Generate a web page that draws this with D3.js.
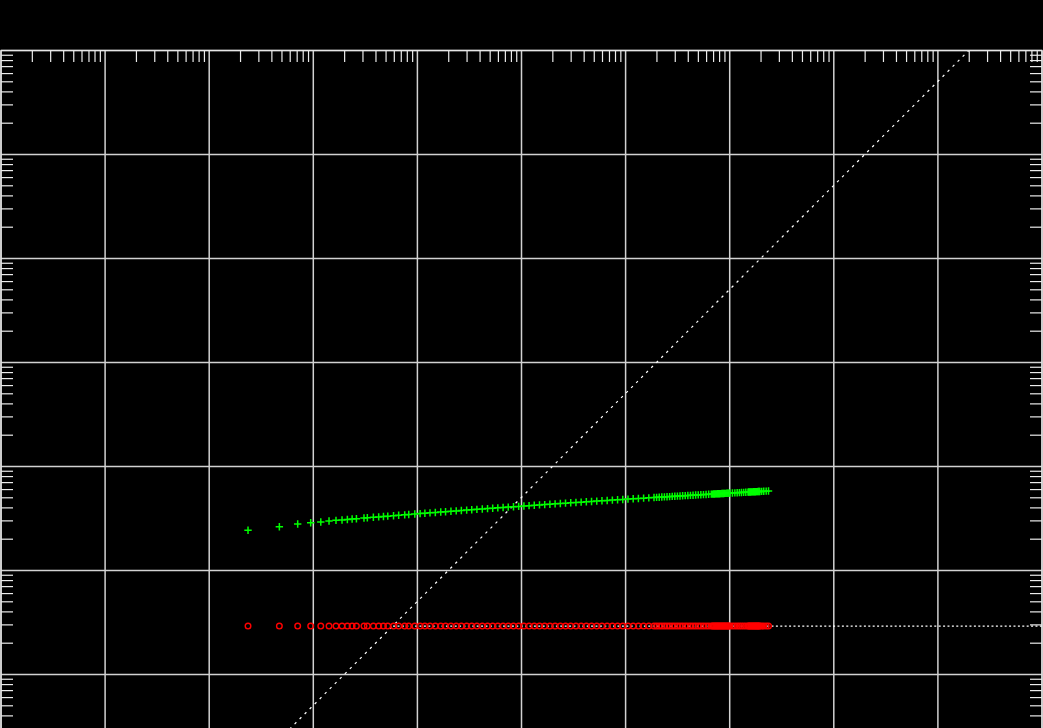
<!DOCTYPE html>
<html>
<head>
<meta charset="utf-8">
<script src="https://cdn.jsdelivr.net/npm/d3@7"></script>
<style>
  html, body { margin: 0; padding: 0; background: #000; overflow: hidden; }
  svg { display: block; }
</style>
</head>
<body>
<svg id="chart" width="1043" height="728"></svg>
<script>
// ---------------- data ----------------
const tau0 = 2.36; // x-axis units per averaging step
const avgFactor = [1,2,3,4,5,6,7,8,9,10,
  11,13,14,16,18,20,22,25,28,32,35,40,45,50,56,63,71,79,89,
  100,112,126,141,158,178,200,224,251,282,316,355,398,447,501,562,631,708,794,891,
  1000,1122,1259,1413,1585,1778,1995,2239,2512,2818,3162,3548,3981,4467,5012,5623,6310,7079,7943,
  8414,8913,9441,
  10000,10593,11220,11885,12589,13335,14125,14962,15849,16788,17783,18836,19953,21135,22387,23714,25119,26607,28184,
  29000,29700,30400,31100,31800,32500,33200,34000,34800,35600,36400,37200,38000,38900,39800,40700,41600,42500,
  45000,47500,50000,52500,55000,57700,60500,63500,
  64500,66000,67500,69000,70500,72000,73500,75000,76500,78000,79500,81000,82500,
  86000,90000,95000,100000];

const greenDev = [2.434,2.636,2.798,2.880,2.925,2.991,3.037,3.057,3.092,3.126,
  3.150,3.193,3.213,3.247,3.278,3.306,3.331,3.365,3.395,3.430,3.454,3.490,3.523,3.551,3.582,3.614,3.647,3.677,3.709,
  3.742,3.774,3.807,3.838,3.871,3.904,3.937,3.970,4.003,4.036,4.069,4.103,4.136,4.170,4.203,4.237,4.271,4.304,4.338,4.372,
  4.407,4.441,4.475,4.509,4.544,4.578,4.613,4.648,4.682,4.717,4.752,4.787,4.822,4.857,4.892,4.927,4.962,4.997,5.032,
  5.050,5.068,5.085,
  5.103,5.120,5.138,5.156,5.174,5.191,5.209,5.227,5.245,5.262,5.280,5.298,5.315,5.333,5.351,5.368,5.386,5.404,5.422,
  5.430,5.438,5.445,5.452,5.458,5.465,5.472,5.479,5.487,5.493,5.500,5.507,5.514,5.521,5.528,5.535,5.541,5.548,
  5.566,5.583,5.598,5.613,5.628,5.642,5.657,5.672,
  5.677,5.684,5.690,5.697,5.704,5.710,5.717,5.723,5.729,5.735,5.741,5.747,5.752,
  5.765,5.779,5.796,5.812];

const redDev = [0.292,0.292,0.292,0.292,0.292,0.292,0.292,0.292,0.292,0.292,
  0.292,0.292,0.292,0.292,0.292,0.292,0.292,0.292,0.292,0.292,
  0.292,0.292,0.292,0.292,0.292,0.292,0.292,0.292,0.292,0.292,
  0.292,0.292,0.292,0.292,0.292,0.292,0.292,0.292,0.292,0.292,
  0.292,0.292,0.292,0.292,0.292,0.292,0.292,0.292,0.292,0.292,
  0.292,0.292,0.292,0.292,0.292,0.292,0.292,0.292,0.292,0.292,
  0.292,0.292,0.292,0.292,0.292,0.292,0.292,0.292,0.292,0.292,
  0.292,0.292,0.292,0.292,0.292,0.292,0.292,0.292,0.292,0.292,
  0.292,0.292,0.292,0.292,0.292,0.292,0.292,0.292,0.292,0.292,
  0.292,0.292,0.292,0.292,0.292,0.292,0.292,0.292,0.292,0.292,
  0.292,0.292,0.292,0.292,0.292,0.292,0.292,0.292,0.292,0.292,
  0.292,0.292,0.292,0.292,0.292,0.292,0.292,0.292,0.292,0.292,
  0.292,0.292,0.292,0.292,0.292,0.292,0.292,0.292,0.292,0.292,
  0.292,0.292,0.292,0.292];

// reference lines (endpoints)
const diagRefX = [1, 2.1e7];
const diagRefY = [0.00505, 1.06e5];
const floorRefX = [58.4, 1e8];
const floorRefY = [0.292, 0.292];

// axis decades (no labels)
const xDecades = [-2,-1,0,1,2,3,4,5,6,7,8];
const yDecades = [-2,-1,0,1,2,3,4,5];
const minorMults = [2,3,4,5,6,7,8,9];

// ---------------- drawing ----------------
const svg = d3.select("#chart");
const pLeft = 1, pRight = 1042, pTop = 50.5, pBottom = 778.5;

const x = d3.scaleLog().domain([1e-2, 1e8]).range([pLeft, pRight]);
const y = d3.scaleLog().domain([1e-2, 1e5]).range([pBottom, pTop]);

svg.append("rect").attr("width", 1043).attr("height", 728).attr("fill", "#000");

svg.append("defs").append("clipPath").attr("id", "plotclip")
  .append("rect").attr("x", pLeft).attr("y", pTop)
  .attr("width", pRight - pLeft).attr("height", pBottom - pTop);

const gridColor = "#d2d2d2";
const grid = svg.append("g");
grid.selectAll("line.vx").data(xDecades).join("line")
  .attr("x1", d => x(Math.pow(10, d))).attr("x2", d => x(Math.pow(10, d)))
  .attr("y1", pTop).attr("y2", pBottom)
  .attr("stroke", gridColor).attr("stroke-width", 1.5);
grid.selectAll("line.hy").data(yDecades).join("line")
  .attr("y1", d => y(Math.pow(10, d))).attr("y2", d => y(Math.pow(10, d)))
  .attr("x1", pLeft).attr("x2", pRight)
  .attr("stroke", gridColor).attr("stroke-width", 1.5);

// minor ticks
const tickG = svg.append("g");
const xMinor = [];
xDecades.slice(0, -1).forEach(e => minorMults.forEach(m => xMinor.push(m * Math.pow(10, e))));
const yMinor = [];
yDecades.slice(0, -1).forEach(e => minorMults.forEach(m => yMinor.push(m * Math.pow(10, e))));
const tickColor = "#ececec";
tickG.selectAll("line.tt").data(xMinor).join("line")
  .attr("x1", d => x(d)).attr("x2", d => x(d))
  .attr("y1", pTop).attr("y2", pTop + 11.5)
  .attr("stroke", tickColor).attr("stroke-width", 1.2);
tickG.selectAll("line.tl").data(yMinor).join("line")
  .attr("y1", d => y(d)).attr("y2", d => y(d))
  .attr("x1", pLeft).attr("x2", pLeft + 12)
  .attr("stroke", tickColor).attr("stroke-width", 1.2);
tickG.selectAll("line.tr").data(yMinor).join("line")
  .attr("y1", d => y(d)).attr("y2", d => y(d))
  .attr("x1", pRight - 12).attr("x2", pRight)
  .attr("stroke", tickColor).attr("stroke-width", 1.2);

// reference lines
const plot = svg.append("g").attr("clip-path", "url(#plotclip)");
const line = d3.line().x(d => x(d[0])).y(d => y(d[1]));
plot.append("path")
  .attr("d", line(diagRefX.map((v, i) => [v, diagRefY[i]])))
  .attr("fill", "none").attr("stroke", "#ffffff").attr("stroke-width", 1.2)
  .attr("stroke-dasharray", "2.5,4.6");
plot.append("path")
  .attr("d", line(floorRefX.map((v, i) => [v, floorRefY[i]])))
  .attr("fill", "none").attr("stroke", "#ffffff").attr("stroke-width", 1.2)
  .attr("stroke-dasharray", "2,2.4");

// red circles
const pts = avgFactor.map((m, i) => ({ tau: m * tau0, g: greenDev[i], r: redDev[i] }));
plot.selectAll("circle.red").data(pts).join("circle")
  .attr("cx", d => x(d.tau)).attr("cy", d => y(d.r)).attr("r", 2.8)
  .attr("fill", "none").attr("stroke", "#ff0000").attr("stroke-width", 1.4);

// green plus markers
plot.selectAll("path.green").data(pts).join("path")
  .attr("transform", d => `translate(${x(d.tau)},${y(d.g)})`)
  .attr("d", "M-3.7,0H3.7M0,-3.7V3.7")
  .attr("fill", "none").attr("stroke", "#00ff00").attr("stroke-width", 1.5);

// border
svg.append("rect").attr("x", pLeft).attr("y", pTop)
  .attr("width", pRight - pLeft).attr("height", pBottom - pTop)
  .attr("fill", "none").attr("stroke", "#e6e6e6").attr("stroke-width", 1.3);
</script>
</body>
</html>
